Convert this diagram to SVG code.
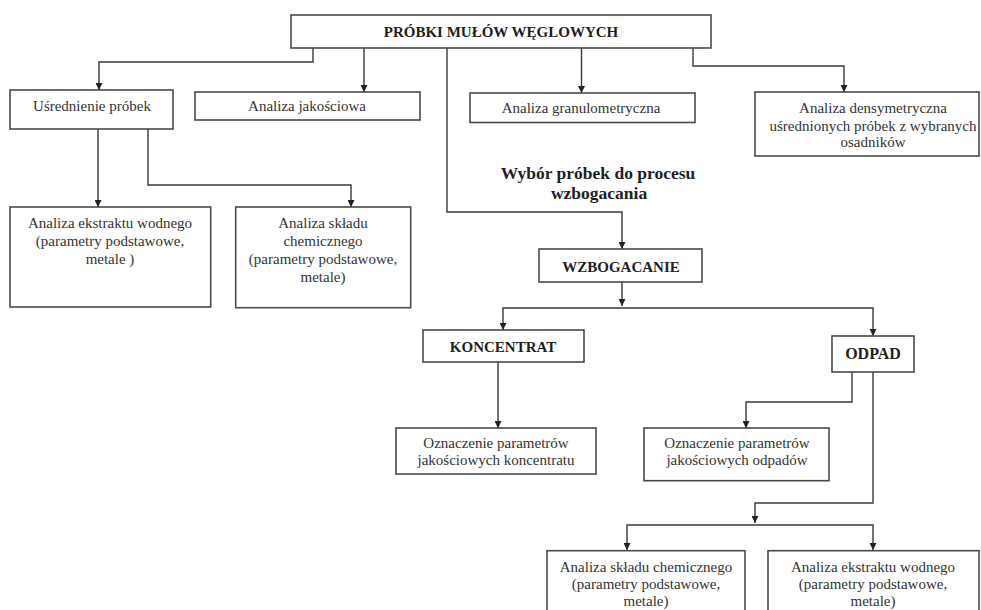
<svg xmlns="http://www.w3.org/2000/svg" width="981" height="610" viewBox="0 0 981 610">
<defs>
<style>
.box{fill:#fff;stroke:#4a4a4a;stroke-width:1.6}
.t{font-family:"Liberation Serif","Times New Roman",serif;font-size:15px;fill:#333;text-anchor:middle}
.b{font-family:"Liberation Serif","Times New Roman",serif;font-size:15px;font-weight:bold;fill:#1e1e1e;text-anchor:middle}
.c{fill:none;stroke:#3a3a3a;stroke-width:1.4;marker-end:url(#ah)}
</style>
<marker id="ah" viewBox="0 0 10 10" refX="10" refY="5" markerWidth="8" markerHeight="7" markerUnits="userSpaceOnUse" orient="auto">
<path d="M0,0 L10,5 L0,10 z" fill="#222"/>
</marker>
</defs>
<rect width="981" height="610" fill="#fff"/>

<g id="connectors">
<path class="c" d="M313,48 V62 H99 V90"/>
<path class="c" d="M364,48 V92"/>
<path class="c" d="M581.5,48 V93"/>
<path class="c" d="M693,48 V66 H844 V92"/>
<path class="c" d="M447,48 V212 H622 V249"/>
<path class="c" d="M98,129 V207"/>
<path class="c" d="M148,129 V185 H351 V207"/>
<path class="c" d="M622,282 V306"/>
<path class="c" d="M622,308 H503 V330"/>
<path class="c" d="M622,308 H873 V336"/>
<path class="c" d="M498,362 V428"/>
<path class="c" d="M852,372 V402 H746 V428"/>
<path class="c" d="M873,372 V503 H755 V523"/>
<path class="c" d="M755,525 H627 V550"/>
<path class="c" d="M755,525 H873 V550"/>
</g>

<g id="n-probki">
<rect class="box" x="291" y="15" width="420" height="33"/>
<text class="b" x="501" y="37">PRÓBKI MUŁÓW WĘGLOWYCH</text>
</g>

<g id="n-usrednienie">
<rect class="box" x="10" y="90" width="163" height="39"/>
<text class="t" x="92" y="111">Uśrednienie próbek</text>
</g>

<g id="n-jakosciowa">
<rect class="box" x="195" y="92" width="225" height="28"/>
<text class="t" x="307" y="111">Analiza jakościowa</text>
</g>

<g id="n-granulometryczna">
<rect class="box" x="470" y="93" width="225" height="29.5"/>
<text class="t" x="581" y="113">Analiza granulometryczna</text>
</g>

<g id="n-densymetryczna">
<rect class="box" x="755" y="92" width="224" height="64"/>
<text class="t" x="873" y="113">Analiza densymetryczna</text>
<text class="t" x="873" y="131">uśrednionych próbek z wybranych</text>
<text class="t" x="873" y="147">osadników</text>
</g>

<g id="n-ekstrakt1">
<rect class="box" x="10" y="207" width="200.7" height="100"/>
<text class="t" x="110" y="228">Analiza ekstraktu wodnego</text>
<text class="t" x="110" y="246">(parametry podstawowe,</text>
<text class="t" x="110" y="264">metale )</text>
</g>

<g id="n-sklad1">
<rect class="box" x="235.7" y="207" width="175" height="100.7"/>
<text class="t" x="323" y="228">Analiza składu</text>
<text class="t" x="323" y="246">chemicznego</text>
<text class="t" x="323" y="264">(parametry podstawowe,</text>
<text class="t" x="323" y="282">metale)</text>
</g>

<g id="n-wybor">
<text class="b" x="598" y="179" style="font-size:17.5px">Wybór próbek do procesu</text>
<text class="b" x="599" y="199" style="font-size:17.5px">wzbogacania</text>
</g>

<g id="n-wzbogacanie">
<rect class="box" x="539" y="249" width="163" height="33"/>
<text class="b" x="621" y="272">WZBOGACANIE</text>
</g>

<g id="n-koncentrat">
<rect class="box" x="423" y="330" width="161" height="32"/>
<text class="b" x="503" y="352">KONCENTRAT</text>
</g>

<g id="n-odpad">
<rect class="box" x="832" y="336" width="82" height="36"/>
<text class="b" x="873" y="359" style="font-size:16px">ODPAD</text>
</g>

<g id="n-ozn-koncentrat">
<rect class="box" x="396" y="428" width="200" height="46"/>
<text class="t" x="496" y="448">Oznaczenie parametrów</text>
<text class="t" x="496" y="465">jakościowych koncentratu</text>
</g>

<g id="n-ozn-odpady">
<rect class="box" x="644" y="428" width="185" height="52.7"/>
<text class="t" x="737" y="448">Oznaczenie parametrów</text>
<text class="t" x="737" y="465">jakościowych odpadów</text>
</g>

<g id="n-sklad2">
<rect class="box" x="547" y="550.7" width="198" height="70"/>
<text class="t" x="646" y="572">Analiza składu chemicznego</text>
<text class="t" x="646" y="589">(parametry podstawowe,</text>
<text class="t" x="646" y="606">metale)</text>
</g>

<g id="n-ekstrakt2">
<rect class="box" x="768" y="550.7" width="211" height="70"/>
<text class="t" x="873" y="572">Analiza ekstraktu wodnego</text>
<text class="t" x="873" y="589">(parametry podstawowe,</text>
<text class="t" x="873" y="606">metale)</text>
</g>
</svg>
